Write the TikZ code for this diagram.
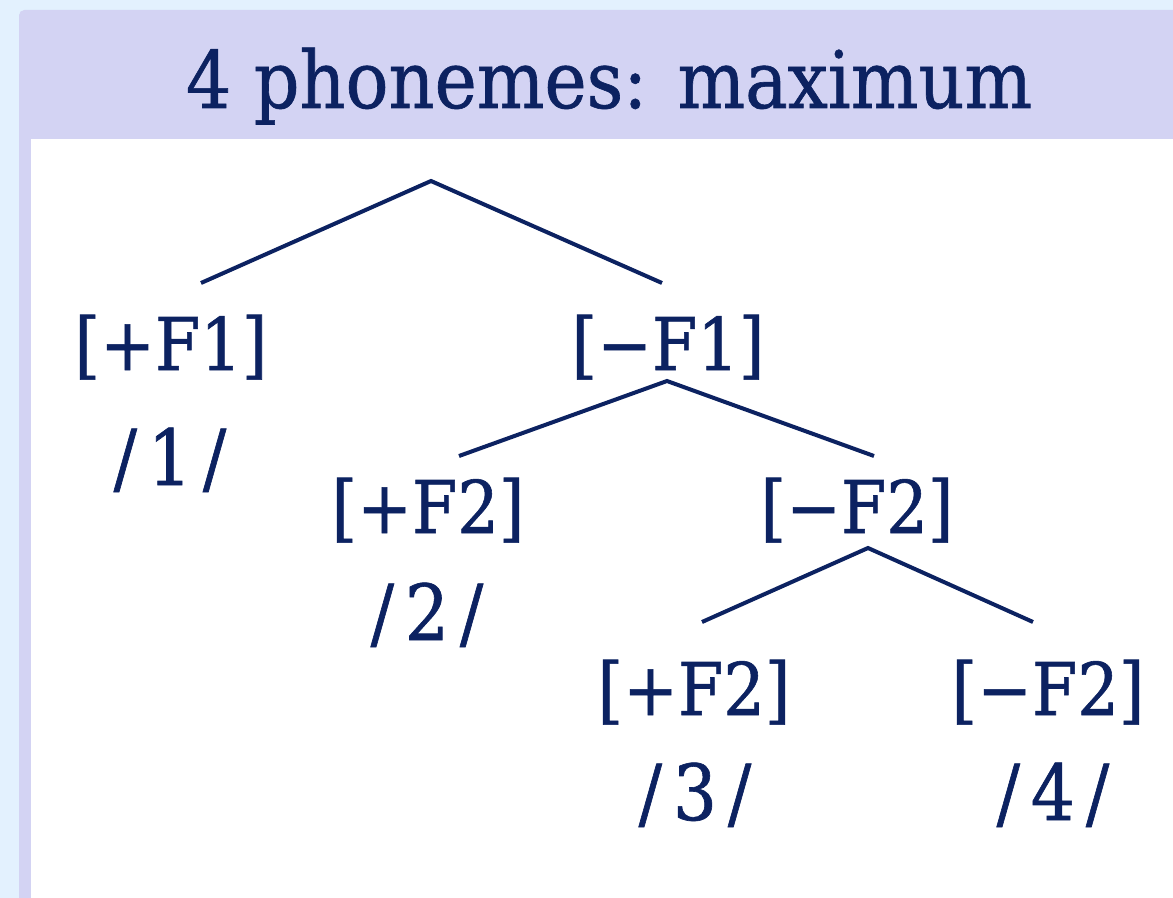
\documentclass[tikz,border=0pt]{standalone}
\usepackage{fontspec}
\setmainfont{DejaVu Serif Condensed}[FakeBold=0.8]
\usepackage{xcolor}
\definecolor{cSky}{HTML}{E3F1FE}
\definecolor{cPanel}{HTML}{D3D3F3}
\definecolor{cInk}{HTML}{0C2261}
\usepackage{tikz}
\usetikzlibrary{positioning}
\newcommand{\phon}[1]{/\kern0.14em#1\kern0.14em/}
\tikzset{
  txt-title/.style={anchor=base,inner sep=0pt,text=cInk,
    font=\fontsize{59.5}{70}\selectfont},
  txt-feat/.style={anchor=base,inner sep=0pt,text=cInk,
    font=\fontsize{54.5}{66}\selectfont},
  txt-phon/.style={anchor=base,inner sep=0pt,text=cInk,
    font=\fontsize{58}{70}\selectfont},
  branch/.style={draw=cInk,line width=3pt},
}

\begin{document}
\begin{tikzpicture}[x=0.75pt,y=-0.75pt]
  \useasboundingbox (0,0) rectangle (1173,898);
  % frame
  \fill[cSky] (0,0) rectangle (1173,898);
  \begin{scope}
    \clip (0,0) rectangle (1173,898);
    \fill[cPanel,rounded corners=4pt] (19,10) rectangle (1200,930);
  \end{scope}
  \fill[white] (31,139) rectangle (1173,898);
  \node[txt-title] (title) at (609,108) {4 phonemes: maximum};

  % features and phonemes
  \node[txt-feat] (f1p) at (171,370) {[+F1]};
  \node[txt-phon] (ph1) at (170,485) {\phon{1}};
  \node[txt-feat] (f1m) at (668,370) {[−F1]};
  \node[txt-feat] (f2p) at (428,533) {[+F2]};
  \node[txt-phon] (ph2) at (427,640) {\phon{2}};
  \node[txt-feat] (f2m) at (857,533) {[−F2]};
  \node[txt-feat] (f2mp) at (694,715) {[+F2]};
  \node[txt-phon] (ph3) at (695,820) {\phon{3}};
  \node[txt-feat] (f2mm) at (1048,715) {[−F2]};
  \node[txt-phon] (ph4) at (1053,820) {\phon{4}};

  % branch points
  \coordinate (top) at (431,181);
  \coordinate (f1p-up) at (201,283);
  \coordinate (f1m-up) at (662,283);
  \coordinate (f1m-dn) at (667,381);
  \coordinate (f2p-up) at (459,456);
  \coordinate (f2m-up) at (874,456);
  \coordinate (f2m-dn) at (868,548);
  \coordinate (f2mp-up) at (702,622);
  \coordinate (f2mm-up) at (1033,622);
  \draw[branch] (f1p-up) -- (top) -- (f1m-up);
  \draw[branch] (f2p-up) -- (f1m-dn) -- (f2m-up);
  \draw[branch] (f2mp-up) -- (f2m-dn) -- (f2mm-up);
\end{tikzpicture}
\end{document}
